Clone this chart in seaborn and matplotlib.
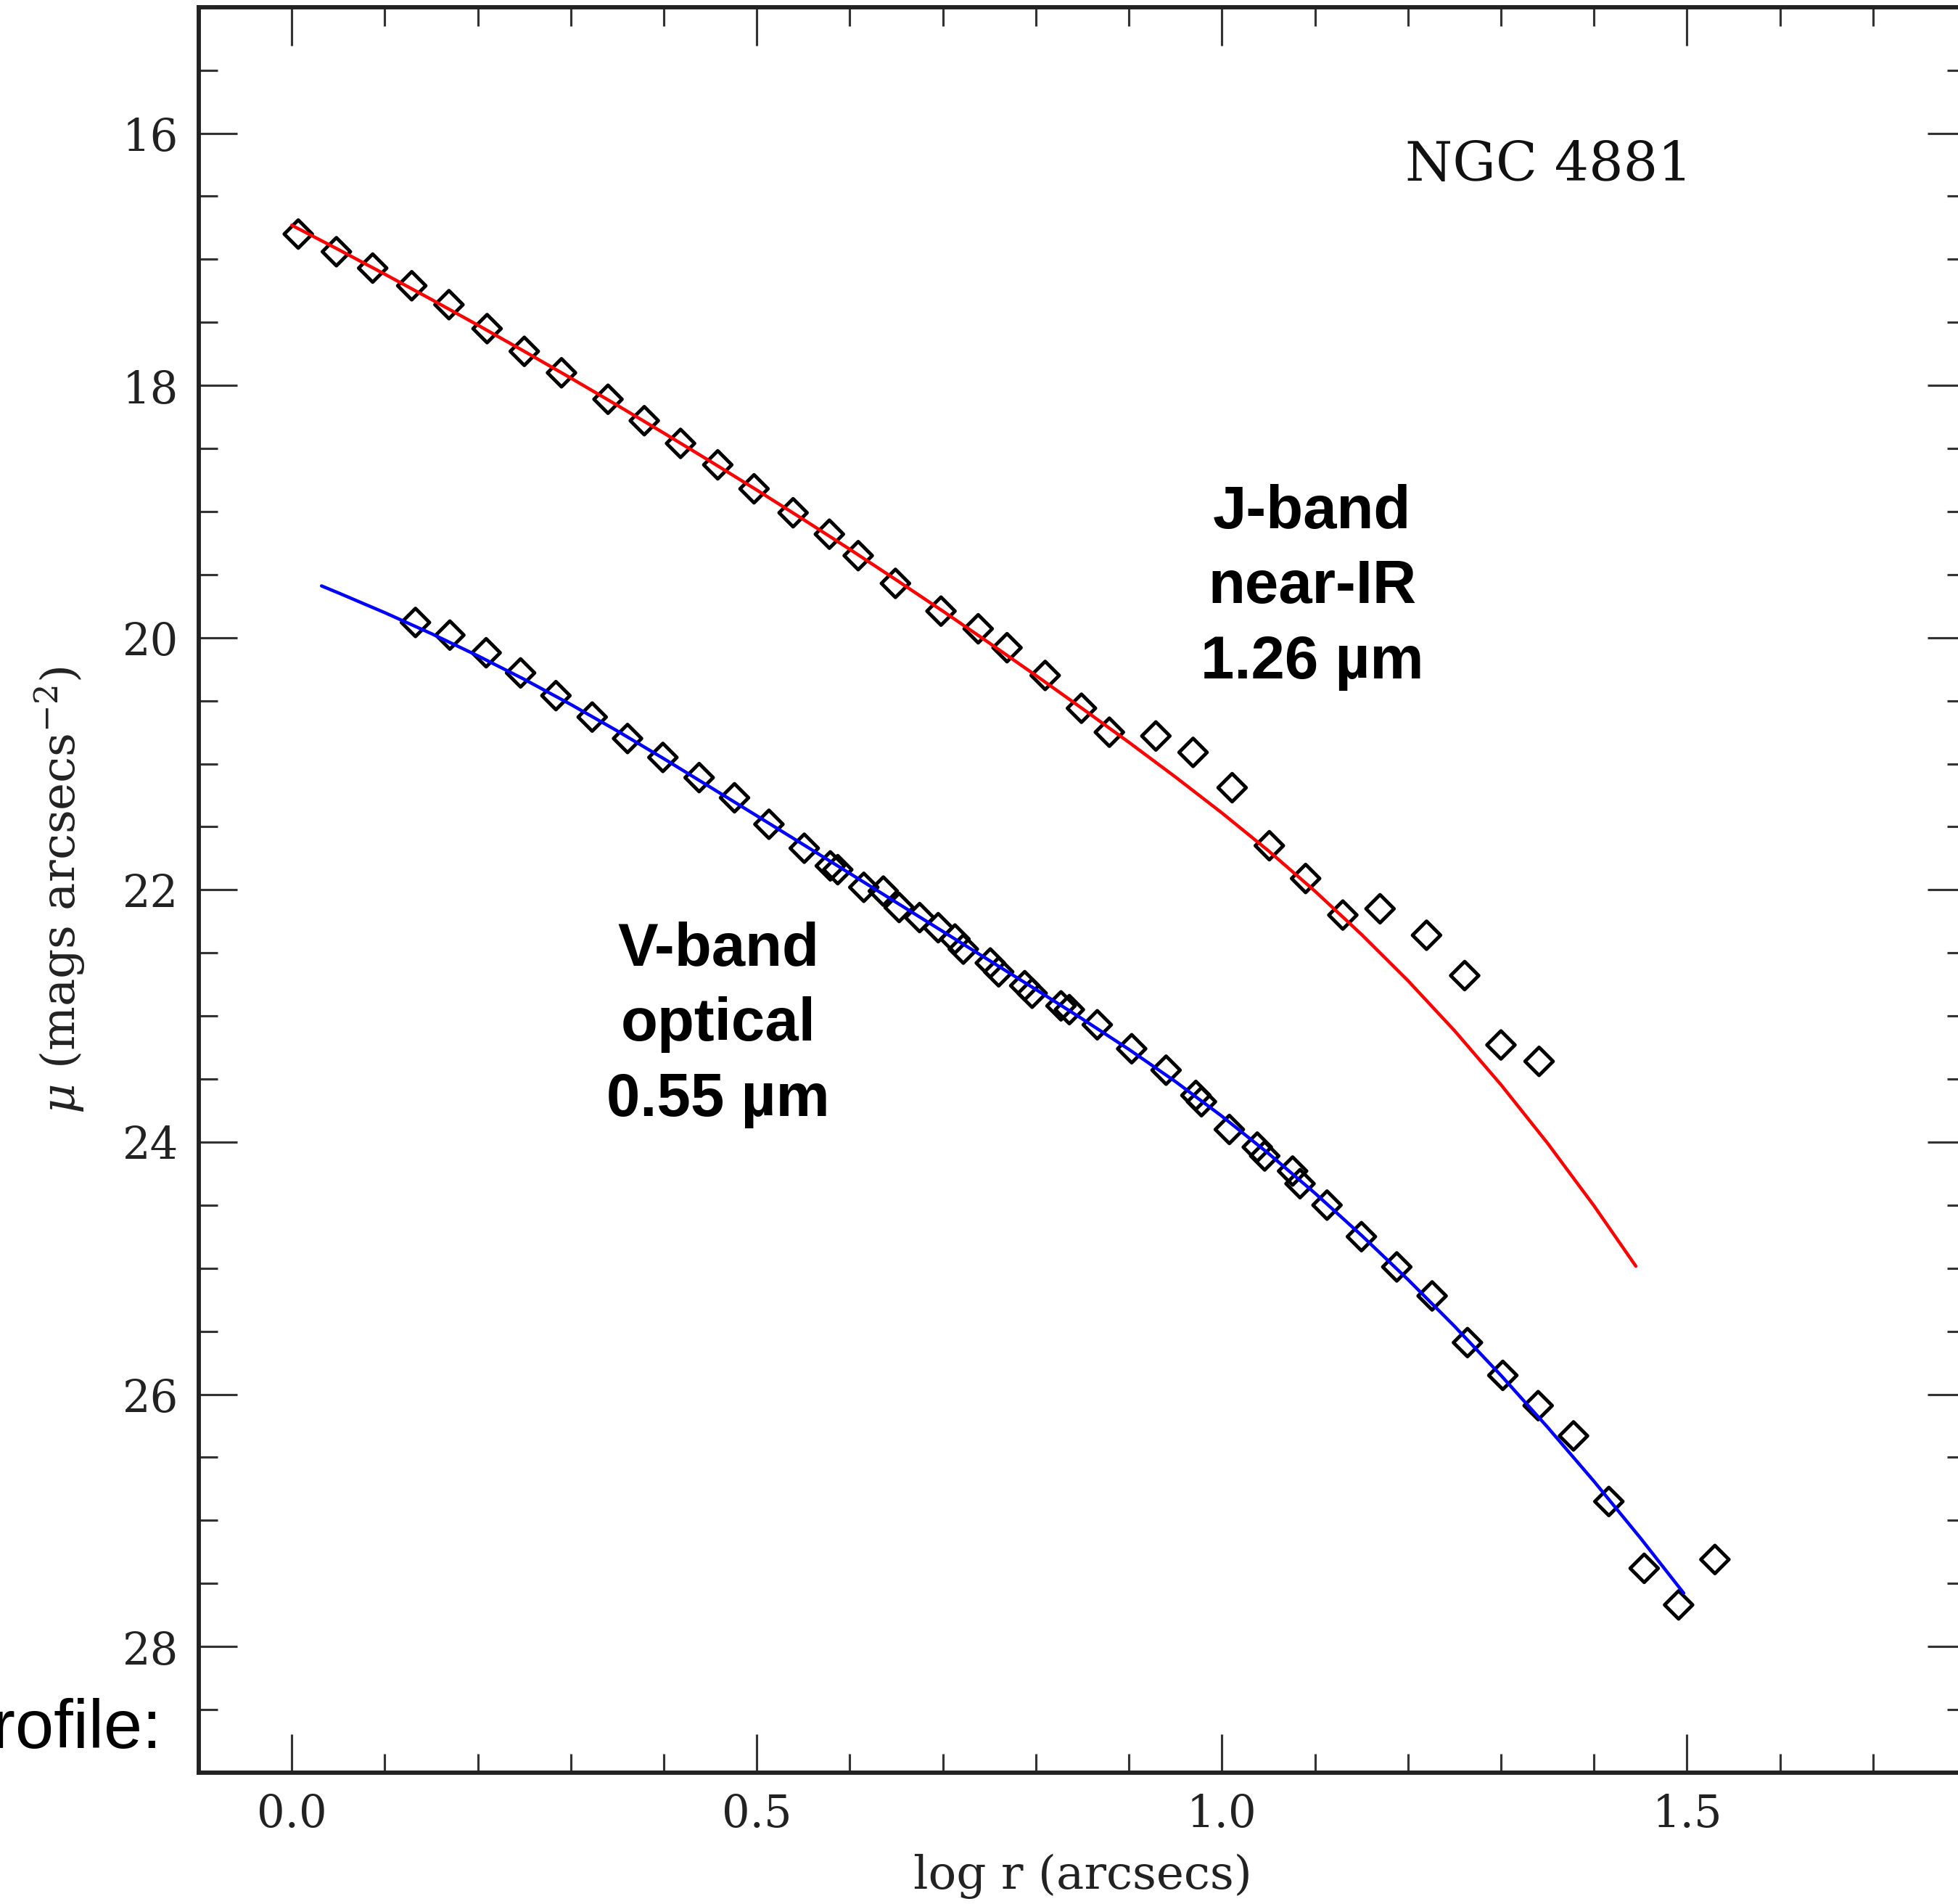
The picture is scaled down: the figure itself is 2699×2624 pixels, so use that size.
import numpy as np
import pandas as pd
import matplotlib
matplotlib.use("Agg")
import matplotlib.pyplot as plt
import seaborn as sns
from matplotlib.ticker import MultipleLocator, FormatStrFormatter

# ---------------- data ----------------
j_logr = [0.007, 0.048, 0.087, 0.129, 0.169, 0.210, 0.250, 0.290, 0.340, 0.379,
          0.418, 0.458, 0.497, 0.539, 0.578, 0.609, 0.649, 0.698, 0.738, 0.769,
          0.810, 0.849, 0.879, 0.929, 0.969, 1.011, 1.051, 1.090, 1.130, 1.170,
          1.220, 1.261, 1.300, 1.341]
j_mu = [16.80, 16.94, 17.07, 17.21, 17.36, 17.55, 17.73, 17.90, 18.11, 18.28,
        18.46, 18.63, 18.82, 19.01, 19.18, 19.35, 19.57, 19.79, 19.93, 20.08,
        20.30, 20.56, 20.75, 20.78, 20.91, 21.19, 21.65, 21.91, 22.20, 22.15,
        22.36, 22.68, 23.23, 23.36]

v_logr = [0.133, 0.170, 0.209, 0.246, 0.284, 0.323, 0.361, 0.399, 0.438, 0.476,
          0.513, 0.551, 0.579, 0.587, 0.615, 0.636, 0.653, 0.675, 0.695, 0.713,
          0.722, 0.751, 0.760, 0.788, 0.796, 0.827, 0.836, 0.866, 0.903, 0.940,
          0.972, 0.978, 1.008, 1.038, 1.046, 1.076, 1.084, 1.113, 1.150, 1.188,
          1.226, 1.264, 1.302, 1.340, 1.378, 1.416, 1.454, 1.491, 1.530]
v_mu = [19.88, 19.98, 20.12, 20.28, 20.46, 20.63, 20.80, 20.95, 21.11, 21.27,
        21.48, 21.67, 21.81, 21.84, 21.98, 22.01, 22.14, 22.22, 22.30, 22.39,
        22.47, 22.58, 22.65, 22.76, 22.82, 22.92, 22.95, 23.07, 23.26, 23.43,
        23.63, 23.68, 23.90, 24.04, 24.11, 24.23, 24.33, 24.50, 24.75, 24.99,
        25.22, 25.59, 25.85, 26.09, 26.33, 26.85, 27.38, 27.67, 27.31]

# fitted profiles
jfit_logr = [0.00, 0.05, 0.10, 0.15, 0.20, 0.25, 0.30, 0.35, 0.40, 0.45,
             0.50, 0.55, 0.60, 0.65, 0.70, 0.75, 0.80, 0.85, 0.90, 0.95,
             1.00, 1.05, 1.10, 1.15, 1.20, 1.25, 1.30, 1.35, 1.40, 1.445]
jfit_mu = [16.730, 16.922, 17.118, 17.318, 17.522, 17.730, 17.942, 18.158,
           18.378, 18.602, 18.830, 19.063, 19.300, 19.543, 19.790, 20.043,
           20.300, 20.563, 20.830, 21.105, 21.390, 21.690, 22.010, 22.353,
           22.720, 23.116, 23.545, 24.008, 24.505, 24.984]

vfit_logr = [0.032, 0.05, 0.10, 0.15, 0.20, 0.25, 0.30, 0.35, 0.40, 0.45,
             0.50, 0.55, 0.60, 0.65, 0.70, 0.75, 0.80, 0.85, 0.90, 0.95,
             1.00, 1.05, 1.10, 1.15, 1.20, 1.25, 1.30, 1.35, 1.40, 1.45, 1.4965]
vfit_mu = [19.590, 19.645, 19.802, 19.968, 20.144, 20.331, 20.530, 20.740,
           20.960, 21.186, 21.413, 21.641, 21.870, 22.100, 22.330, 22.560,
           22.790, 23.024, 23.265, 23.520, 23.795, 24.090, 24.405, 24.739,
           25.090, 25.460, 25.850, 26.260, 26.690, 27.140, 27.577]

title_text = "NGC 4881"
j_label = "J-band\nnear-IR\n1.26 µm"
v_label = "V-band\noptical\n0.55 µm"

# ---------------- figure ----------------
sns.set_theme(style="ticks")
plt.rcParams["font.family"] = ["DejaVu Serif"]
plt.rcParams["mathtext.fontset"] = "dejavuserif"

DPI = 250
fig = plt.figure(figsize=(2699 / DPI, 2624 / DPI), dpi=DPI, facecolor="white")
ax = fig.add_axes([0.1015, 0.0690, 0.9026, 0.9273])
ax.set_facecolor("white")

sns.scatterplot(x=j_logr, y=j_mu, ax=ax, marker="D", s=62,
                facecolors="none", edgecolors="black", linewidths=1.4,
                zorder=3, legend=False)
sns.scatterplot(x=v_logr, y=v_mu, ax=ax, marker="D", s=62,
                facecolors="none", edgecolors="black", linewidths=1.4,
                zorder=3, legend=False)
for coll in ax.collections:
    coll.set_facecolor("none")
    coll.set_edgecolor("black")

sns.lineplot(x=jfit_logr, y=jfit_mu, ax=ax, color="#ff0000", linewidth=1.3,
             sort=False, estimator=None, zorder=4)
sns.lineplot(x=vfit_logr, y=vfit_mu, ax=ax, color="#0000ff", linewidth=1.3,
             sort=False, estimator=None, zorder=4)

ax.set_xlim(-0.1, 1.8)
ax.set_ylim(29, 15)

ax.xaxis.set_major_locator(MultipleLocator(0.5))
ax.xaxis.set_minor_locator(MultipleLocator(0.1))
ax.xaxis.set_major_formatter(FormatStrFormatter("%.1f"))
ax.yaxis.set_major_locator(MultipleLocator(2))
ax.yaxis.set_minor_locator(MultipleLocator(0.5))
ax.yaxis.set_major_formatter(FormatStrFormatter("%d"))

ax.tick_params(which="both", direction="in", top=True, right=True,
               color="#333333")
ax.tick_params(which="major", length=15.3, width=0.9, labelsize=17.5,
               pad=8, labelcolor="#222222")
ax.tick_params(which="minor", length=7.5, width=0.9)
for sp in ax.spines.values():
    sp.set_linewidth(1.7)
    sp.set_color("#222222")

ax.set_xlabel("log r (arcsecs)", fontsize=18.5, color="#222222", labelpad=7)
ax.set_ylabel(r"$\mu$ (mags arcsecs$^{-2}$)", fontsize=18.5, color="#222222",
              labelpad=14)

ax.text(1.351, 16.26, title_text, fontsize=21.5, ha="center", va="center",
        color="#111111")
ax.text(1.097, 19.60, j_label, fontsize=24, fontweight="bold",
        family=["Liberation Sans", "DejaVu Sans"], ha="center", va="center",
        multialignment="center", color="black", linespacing=1.42)
ax.text(0.4586, 23.07, v_label, fontsize=24, fontweight="bold",
        family=["Liberation Sans", "DejaVu Sans"], ha="center", va="center",
        multialignment="center", color="black", linespacing=1.42)

fig.text(224 / 2699, 1 - 2409 / 2624, "profile:", fontsize=27.5,
         family=["Liberation Sans", "DejaVu Sans"], ha="right", va="baseline",
         color="black")

fig.savefig("out.png", dpi=DPI, facecolor="white")
